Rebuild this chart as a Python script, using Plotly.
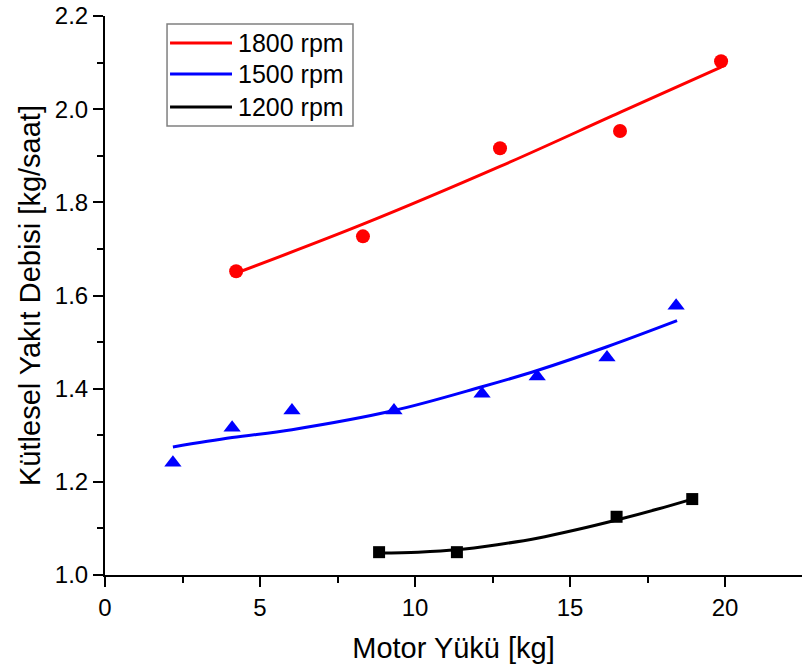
import plotly.graph_objects as go

# Measured data
x1800 = [4.23, 8.32, 12.74, 16.61, 19.87]
y1800 = [1.652, 1.727, 1.916, 1.953, 2.103]
x1500 = [2.19, 4.10, 6.03, 9.32, 12.16, 13.94, 16.19, 18.42]
y1500 = [1.241, 1.316, 1.353, 1.353, 1.389, 1.426, 1.467, 1.578]
x1200 = [8.84, 11.35, 16.50, 18.94]
y1200 = [1.049, 1.049, 1.125, 1.163]

# Fit curves
fx1800 = [4.23, 8.32, 12.74, 16.61, 19.87]
fy1800 = [1.648, 1.753, 1.877, 1.993, 2.090]
fx1500 = [2.19, 4.10, 6.03, 9.32, 12.16, 13.94, 16.19, 18.45]
fy1500 = [1.275, 1.295, 1.312, 1.353, 1.404, 1.439, 1.490, 1.546]
fx1200 = [8.84, 10.1, 11.35, 12.65, 13.94, 15.2, 16.50, 17.8, 18.94]
fy1200 = [1.047, 1.049, 1.054, 1.065, 1.079, 1.097, 1.118, 1.141, 1.163]

names = ["1800 rpm", "1500 rpm", "1200 rpm"]
colors = ["#ff0000", "#0000ff", "#000000"]
symbols = ["circle", "triangle-up", "square"]
msizes = [14, 15, 12]

FONT = "Liberation Sans, Arial"

fig = go.Figure()
series = [(x1800, y1800, fx1800, fy1800), (x1500, y1500, fx1500, fy1500), (x1200, y1200, fx1200, fy1200)]
for (xs, ys, fx, fy), n, c in zip(series, names, colors):
    fig.add_trace(go.Scatter(x=fx, y=fy, mode="lines", name=n, showlegend=False,
                             line=dict(color=c, width=3, shape="spline", smoothing=1.0)))
for (xs, ys, fx, fy), n, c, s, ms in zip(series, names, colors, symbols, msizes):
    fig.add_trace(go.Scatter(x=xs, y=ys, mode="markers", name=n, showlegend=False,
                             marker=dict(color=c, symbol=s, size=ms, line=dict(width=0))))

# Manual legend (paper coordinates)
lg_x0, lg_x1, lg_y0, lg_y1 = 0.089, 0.3558, 0.8032, 0.9857
line_x0, line_x1, text_x = 0.0933, 0.1822, 0.1879
row_y = [0.9517, 0.8962, 0.8372]
fig.add_shape(type="rect", xref="paper", yref="paper", x0=lg_x0, x1=lg_x1, y0=lg_y0, y1=lg_y1,
              line=dict(color="#808080", width=1.5), fillcolor="white", layer="above")
for n, c, ry in zip(names, colors, row_y):
    fig.add_shape(type="line", xref="paper", yref="paper", x0=line_x0, x1=line_x1, y0=ry, y1=ry,
                  line=dict(color=c, width=3), layer="above")
    fig.add_annotation(xref="paper", yref="paper", x=text_x, y=ry, text=n, showarrow=False,
                       xanchor="left", yanchor="middle",
                       font=dict(family=FONT, size=25, color="black"))

axis_common = dict(showline=True, linecolor="black", linewidth=2, ticks="outside",
                   ticklen=10, tickwidth=2, tickcolor="black", showgrid=False, zeroline=False,
                   tickfont=dict(family=FONT, size=24, color="black"),
                   title_font=dict(family=FONT, size=29, color="black"))

fig.update_layout(
    width=802, height=670,
    margin=dict(l=105, r=0, t=16, b=95),
    plot_bgcolor="white", paper_bgcolor="white",
    xaxis=dict(range=[0, 22.48], dtick=5, tick0=0,
               minor=dict(ticks="outside", dtick=2.5, ticklen=6, tickwidth=2, tickcolor="black"),
               title=dict(text="Motor Yükü [kg]", standoff=18), **axis_common),
    yaxis=dict(range=[1.0, 2.2], dtick=0.2, tick0=1.0, tickformat=".1f",
               minor=dict(ticks="outside", dtick=0.1, ticklen=6, tickwidth=2, tickcolor="black"),
               title=dict(text="Kütlesel Yakıt Debisi [kg/saat]", standoff=6), **axis_common),
    showlegend=False,
)

fig.write_html("out.html")
